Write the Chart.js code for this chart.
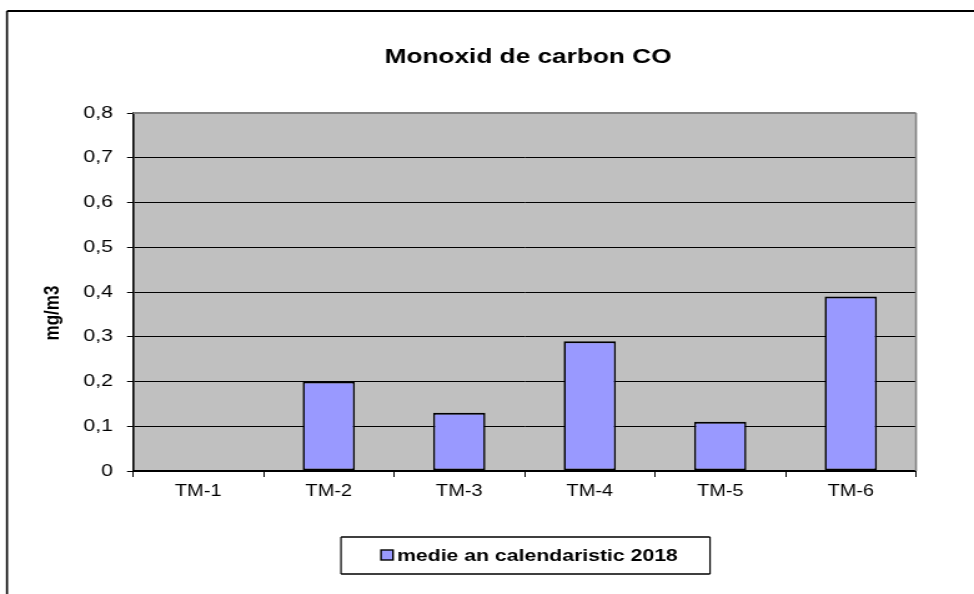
<!DOCTYPE html>
<html>
<head>
<meta charset="utf-8">
<script src="https://cdn.jsdelivr.net/npm/chart.js@4.4.1/dist/chart.umd.min.js"></script>
<style>
html,body{margin:0;padding:0;background:#fff;overflow:hidden;}
</style>
</head>
<body>
<canvas id="c" width="780" height="594" style="width:974px;height:594px;display:block;"></canvas>
<script>
const chartTitle = "Monoxid de carbon CO";
const yAxisTitle = "mg/m3";
const categories = ["TM-1", "TM-2", "TM-3", "TM-4", "TM-5", "TM-6"];
const seriesName = "medie an calendaristic 2018";
const seriesValues = [null, 0.20, 0.13, 0.29, 0.11, 0.39];
const yTicks = [0, 0.1, 0.2, 0.3, 0.4, 0.5, 0.6, 0.7, 0.8];

const FONT = "'Liberation Sans', Arial, sans-serif";
const BAR_COLOR = "#9999ff";
// the reference image is stretched horizontally; draw on a narrower canvas and stretch it
const SX = 974 / 780;
const px = v => v / SX;

const decor = {
  id: "decor",
  beforeDraw(chart) {
    const ctx = chart.ctx, a = chart.chartArea;
    ctx.save();
    ctx.fillStyle = "#c0c0c0";
    ctx.fillRect(a.left, a.top, a.right - a.left, a.bottom - a.top);
    ctx.restore();
  },
  afterDraw(chart) {
    const ctx = chart.ctx, a = chart.chartArea;
    ctx.save();
    // plot top/right border
    ctx.strokeStyle = "#808080";
    ctx.lineWidth = 2;
    ctx.beginPath();
    ctx.moveTo(a.left, a.top);
    ctx.lineTo(a.right, a.top);
    ctx.stroke();
    ctx.lineWidth = 1.6;
    ctx.beginPath();
    ctx.moveTo(a.right, a.top);
    ctx.lineTo(a.right, a.bottom);
    ctx.stroke();
    // outer frame (top and left visible)
    ctx.strokeStyle = "#000";
    ctx.lineWidth = 2;
    ctx.beginPath();
    ctx.moveTo(px(7), 11);
    ctx.lineTo(780, 11);
    ctx.stroke();
    ctx.lineWidth = 1.6;
    ctx.beginPath();
    ctx.moveTo(px(7), 594);
    ctx.lineTo(px(7), 11);
    ctx.stroke();
    // title
    ctx.fillStyle = "#000";
    ctx.font = "bold 21px " + FONT;
    ctx.textAlign = "center";
    ctx.textBaseline = "middle";
    ctx.fillText(chartTitle, px(528), 57);
    // y axis title
    ctx.save();
    ctx.translate(px(52.5), 313);
    ctx.rotate(-Math.PI / 2);
    ctx.font = "bold 17px " + FONT;
    ctx.fillText(yAxisTitle, 0, 0);
    ctx.restore();
    // legend
    const ds = chart.data.datasets[0];
    ctx.strokeStyle = "#000";
    ctx.lineWidth = 1.5;
    ctx.beginPath();
    ctx.moveTo(px(341), 537); ctx.lineTo(px(710), 537);
    ctx.moveTo(px(341), 574); ctx.lineTo(px(710), 574);
    ctx.stroke();
    ctx.lineWidth = 1.2;
    ctx.beginPath();
    ctx.moveTo(px(341), 537); ctx.lineTo(px(341), 574);
    ctx.moveTo(px(710), 537); ctx.lineTo(px(710), 574);
    ctx.stroke();
    ctx.fillStyle = ds.backgroundColor;
    ctx.fillRect(px(381), 550, px(12), 10);
    ctx.lineWidth = 1.4;
    ctx.strokeRect(px(381), 550, px(12), 10);
    ctx.fillStyle = "#000";
    ctx.font = "bold 17px " + FONT;
    ctx.textAlign = "left";
    ctx.fillText(ds.label, px(397), 556);
    ctx.restore();
  }
};

new Chart(document.getElementById("c"), {
  type: "bar",
  data: {
    labels: categories,
    datasets: [{
      label: seriesName,
      data: seriesValues,
      backgroundColor: BAR_COLOR,
      borderColor: "#000",
      borderWidth: { top: 2, bottom: 2, left: 1.6, right: 1.6 },
      borderSkipped: false,
      barPercentage: 0.4,
      categoryPercentage: 1.0
    }]
  },
  options: {
    responsive: false,
    animation: false,
    devicePixelRatio: 1,
    layout: { padding: { top: 113, left: 0, right: 780 - px(916), bottom: 83 } },
    plugins: {
      legend: { display: false },
      title: { display: false },
      tooltip: { enabled: false }
    },
    scales: {
      x: {
        offset: true,
        grid: { offset: true, drawOnChartArea: false, drawTicks: true, tickLength: 6, color: "#000", lineWidth: 1 },
        border: { display: true, color: "#000", width: 2 },
        ticks: { color: "#000", font: { family: FONT, size: 16 }, padding: 5 },
        afterFit(s) { s.height = 40; }
      },
      y: {
        min: 0, max: 0.8,
        afterBuildTicks(s) { s.ticks = yTicks.map(v => ({ value: v })); },
        grid: { color: "#000", lineWidth: 1, tickLength: px(6), drawTicks: true },
        border: { display: true, color: "#000", width: 1.6 },
        ticks: {
          color: "#000", font: { family: FONT, size: 17 }, padding: px(14),
          callback: v => v === 0 ? "0" : v.toFixed(1).replace(".", ",")
        },
        afterFit(s) { s.width = px(133); }
      }
    }
  },
  plugins: [decor]
});
</script>
</body>
</html>
